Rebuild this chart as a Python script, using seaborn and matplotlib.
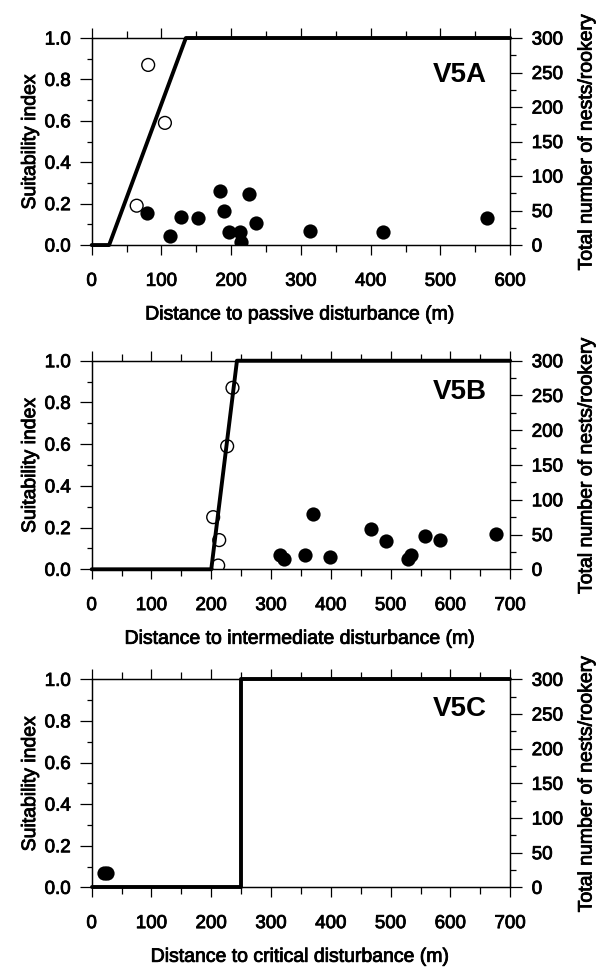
import numpy as np
import pandas as pd
import matplotlib
matplotlib.use("Agg")
import matplotlib.pyplot as plt
import matplotlib.patheffects as pe
from matplotlib.ticker import MultipleLocator, FormatStrFormatter
import seaborn as sns

# Curvas de idoneidad (nodos de la línea)
line_a_x = [0, 25, 135, 600]
line_a_y = [0, 0, 1, 1]
line_b_x = [0, 200, 243, 700]
line_b_y = [0, 0, 1, 1]
line_c_x = [0, 250, 250, 700]
line_c_y = [0, 0, 1, 1]

# Círculos abiertos (índice de idoneidad)
open_a_x = [81, 105, 64.5]
open_a_y = [0.87, 0.59, 0.19]
open_b_x = [235.5, 226.6, 203.2, 213.3, 211.6]
open_b_y = [0.87, 0.59, 0.25, 0.14, 0.018]

# Círculos llenos (nidos por colonia, eje derecho)
nests_a_x = [80, 112, 128, 153, 184, 189, 197, 212, 214, 225, 235, 313, 418, 567]
nests_a_y = [47, 13, 40, 39, 78, 50, 19, 19, 5, 74, 32, 21, 19, 39]
nests_b_x = [315, 321, 356, 370, 398, 468, 493, 529, 534, 557, 582, 676]
nests_b_y = [21, 15, 20, 80, 18, 58, 40, 15, 21, 48, 42, 51]
nests_c_x = [21, 25]
nests_c_y = [21, 21]

x_labels = ["Distance to passive disturbance (m)",
            "Distance to intermediate disturbance (m)",
            "Distance to critical disturbance (m)"]
panel_names = ["V5A", "V5B", "V5C"]
x_max = [600, 700, 700]

sns.set_style("ticks")
plt.rcParams["font.family"] = ["Liberation Sans", "DejaVu Sans"]
plt.rcParams["axes.linewidth"] = 0.9
for key in ["text.color", "axes.labelcolor", "xtick.color", "ytick.color",
            "axes.edgecolor"]:
    plt.rcParams[key] = "black"

# trazo fino para engrosar el texto (aspecto de escaneo)
heavy = [pe.withStroke(linewidth=0.6, foreground="black")]

fig = plt.figure(figsize=(6.06, 9.72), dpi=100)

# posiciones de los paneles [left, bottom, width, height]
positions = [[0.1513, 0.7479, 0.6906, 0.2130],
             [0.1513, 0.4143, 0.6906, 0.2146],
             [0.1513, 0.0871, 0.6906, 0.2140]]
text_y = [0.82, 0.852, 0.857]

panels = [
    (line_a_x, line_a_y, open_a_x, open_a_y, nests_a_x, nests_a_y),
    (line_b_x, line_b_y, open_b_x, open_b_y, nests_b_x, nests_b_y),
    (line_c_x, line_c_y, [], [], nests_c_x, nests_c_y),
]

for i, (lx, ly, ox, oy, nx, ny) in enumerate(panels):
    ax = fig.add_axes(positions[i])
    ax2 = ax.twinx()

    sns.lineplot(x=lx, y=ly, sort=False, estimator=None, color="black",
                 lw=2.8, ax=ax, clip_on=False, zorder=3)
    if ox:
        sns.scatterplot(x=ox, y=oy, ax=ax, s=85, facecolor="none",
                        edgecolor="black", linewidth=1.0, zorder=4)
    sns.scatterplot(x=nx, y=ny, ax=ax2, s=105, color="black",
                    edgecolor="black", linewidth=0, zorder=4)

    ax.set_xlim(0, x_max[i])
    ax.set_ylim(0, 1)
    ax2.set_ylim(0, 300)

    ax.xaxis.set_major_locator(MultipleLocator(100))
    ax.xaxis.set_minor_locator(MultipleLocator(50))
    ax.yaxis.set_major_locator(MultipleLocator(0.2))
    ax.yaxis.set_minor_locator(MultipleLocator(0.1))
    ax.yaxis.set_major_formatter(FormatStrFormatter("%.1f"))
    ax2.yaxis.set_major_locator(MultipleLocator(50))
    ax2.yaxis.set_minor_locator(MultipleLocator(25))

    ax.tick_params(axis="x", which="both", direction="out", top=True,
                   bottom=True, labelsize=13.5, pad=13)
    ax.tick_params(axis="x", which="major", length=7, width=0.9)
    ax.tick_params(axis="x", which="minor", length=5, width=0.9)
    ax.tick_params(axis="y", which="both", direction="out", left=True,
                   right=False, labelsize=13.5, pad=6)
    ax.tick_params(axis="y", which="major", length=9, width=0.9)
    ax.tick_params(axis="y", which="minor", length=3.5, width=0.9)
    ax2.tick_params(axis="y", which="both", direction="out", right=True,
                    left=False, labelsize=13.5, pad=7)
    ax2.tick_params(axis="y", which="major", length=8.5, width=0.9)
    ax2.tick_params(axis="y", which="minor", length=4.5, width=0.9)

    ax.set_xlabel(x_labels[i], fontsize=14, labelpad=12)
    ax.set_ylabel("Suitability index", fontsize=14, labelpad=4)
    ax2.set_ylabel("Total number of nests/rookery", fontsize=14,
                   labelpad=11, rotation=90)

    ax.text(0.945, text_y[i], panel_names[i], transform=ax.transAxes,
            ha="right", va="center", fontsize=20, fontweight="bold")

    for lab in (ax.get_xticklabels() + ax.get_yticklabels()
                + ax2.get_yticklabels()
                + [ax.xaxis.label, ax.yaxis.label, ax2.yaxis.label]):
        lab.set_path_effects(heavy)

    for a in (ax, ax2):
        for sp in a.spines.values():
            sp.set_visible(True)
            sp.set_linewidth(0.9)

fig.savefig("out.png", dpi=100)
